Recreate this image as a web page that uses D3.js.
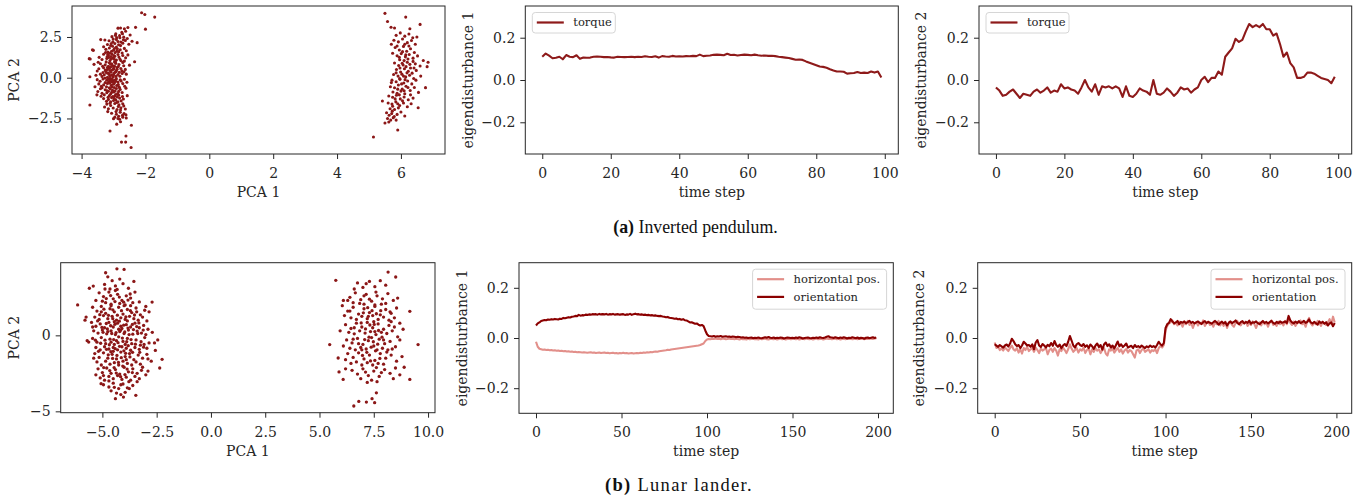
<!DOCTYPE html>
<html>
<head>
<meta charset="utf-8">
<script src="https://cdn.jsdelivr.net/npm/d3@7"></script>
<style>
  body { margin: 0; background: #fff; }
  svg { display: block; }
</style>
</head>
<body>
<svg id="fig" width="1369" height="498"></svg>
<script>
// ---- data ----
// (a) inverted pendulum, PCA scatter: two clusters
const pendClusterLeft = [
  [-2.12,3.99],[-2.02,3.88],[-1.71,3.72],[-2.0,2.98],[-2.31,3.09],[-2.26,2.15],[-2.34,0.98],
  [-2.86,3.04],[-2.78,3.05],[-2.66,3.0],[-2.55,3.08],[-2.62,2.85],[-2.74,2.78],[-2.93,2.7],[-2.48,2.62],
  [-3.05,2.52],[-2.9,2.46],[-2.81,2.58],[-2.68,2.49],[-2.57,2.41],[-3.4,2.34],[-3.27,2.31],
  [-3.14,2.27],[-3.02,2.21],[-2.91,2.35],[-2.77,2.19],[-2.63,2.28],[-2.42,2.24],[-3.19,2.04],[-3.09,1.98],
  [-2.96,2.1],[-2.84,2.02],[-2.71,2.12],[-2.52,2.05],[-3.01,2.38],[-2.86,2.22],
  [-3.63,1.68],[-3.66,1.71],[-3.24,1.74],[-3.13,1.82],[-3.0,1.69],[-2.91,1.88],[-2.79,1.72],[-2.66,1.8],
  [-3.18,1.58],[-3.06,1.62],[-2.95,1.54],[-2.84,1.6],[-2.73,1.52],[-3.31,1.9],[-2.6,1.65],
  [-3.31,1.44],[-3.16,1.37],[-3.05,1.45],[-2.96,1.31],[-2.86,1.42],[-2.71,1.36],[-2.55,1.4],[-3.36,1.12],
  [-3.21,1.18],[-3.11,1.05],[-3.01,1.22],[-2.91,1.09],[-2.8,1.15],[-2.66,1.02],[-3.76,1.17],[-3.73,1.15],
  [-3.45,1.25],[-3.08,1.3],[-2.98,1.14],[-3.15,1.24],
  [-3.61,0.82],[-3.41,0.86],[-3.26,0.79],[-3.13,0.92],[-3.03,0.75],[-2.93,0.88],[-2.83,0.81],[-2.71,0.94],
  [-2.5,0.77],[-3.46,0.55],[-3.31,0.61],[-3.19,0.5],[-3.09,0.66],[-2.99,0.53],[-2.89,0.63],[-2.77,0.57],
  [-2.63,0.51],[-3.06,0.85],[-2.97,0.96],[-3.16,0.7],[-3.0,0.6],
  [-3.74,0.06],[-3.41,0.22],[-3.29,0.18],[-3.16,0.28],[-3.06,0.15],[-2.96,0.32],[-2.86,0.2],[-2.73,0.26],
  [-3.51,0.41],[-3.24,0.39],[-3.11,0.44],[-3.01,0.05],[-2.91,0.42],[-2.8,0.09],[-3.19,0.02],[-3.08,0.34],
  [-2.99,0.25],[-3.36,0.08],[-2.67,0.36],[-3.12,0.12],
  [-3.51,-0.12],[-3.33,-0.08],[-3.21,-0.15],[-3.11,-0.04],[-3.01,-0.18],[-2.91,-0.06],[-2.79,-0.13],[-2.66,-0.09],
  [-3.46,-0.38],[-3.31,-0.44],[-3.19,-0.35],[-3.07,-0.47],[-2.97,-0.31],[-2.85,-0.42],[-2.71,-0.36],[-3.15,-0.25],
  [-3.04,-0.27],[-2.93,-0.22],[-3.26,-0.3],[-3.09,-0.12],
  [-3.41,-0.68],[-3.26,-0.74],[-3.13,-0.62],[-3.03,-0.77],[-2.91,-0.66],[-2.79,-0.72],[-2.61,-0.64],[-3.36,-0.96],
  [-3.21,-0.92],[-3.09,-1.0],[-2.99,-0.88],[-2.87,-0.97],[-2.73,-0.91],[-3.16,-0.83],[-3.05,-0.57],[-2.95,-0.81],
  [-3.49,-0.85],[-2.83,-0.55],
  [-3.74,-1.67],[-3.31,-1.28],[-3.16,-1.33],[-3.06,-1.22],[-2.93,-1.36],[-2.81,-1.25],[-2.69,-1.31],[-3.22,-1.45],
  [-3.09,-1.48],[-2.96,-1.12],[-2.86,-1.47],[-3.39,-1.14],[-3.0,-1.4],
  [-3.21,-1.62],[-3.09,-1.7],[-2.96,-1.58],[-2.83,-1.66],[-2.71,-1.6],[-3.16,-1.91],[-3.01,-1.86],[-2.89,-1.95],
  [-2.77,-1.84],[-2.63,-1.92],[-2.85,-1.77],[-3.28,-1.8],[-2.68,-1.73],
  [-3.06,-2.18],[-2.91,-2.24],[-2.79,-2.12],[-2.67,-2.2],[-2.84,-2.36],[-2.72,-2.31],[-2.96,-2.42],[-2.61,-2.28],
  [-3.0,-2.51],[-2.81,-2.55],[-2.6,-2.47],[-3.18,-2.08],
  [-2.44,-2.92],[-2.78,-2.7],[-3.11,-3.27],[-2.61,-3.58],[-2.75,-3.95],[-2.62,-3.95],[-2.45,-4.28],[-2.9,-2.85]
];
const pendClusterLeftCore = [
  [-3.03,1.93],[-2.88,1.77],[-3.11,1.51],[-2.99,1.36],[-3.2,1.29],[-2.83,1.27],[-3.07,1.16],[-2.94,0.99],
  [-3.23,0.97],[-2.77,1.05],[-3.09,0.83],[-2.97,0.71],[-3.34,0.7],[-2.85,0.69],[-3.13,0.58],[-3.04,0.47],
  [-2.93,0.37],[-3.22,0.3],[-2.82,0.33],[-3.14,0.21],[-3.02,0.13],[-2.92,0.08],[-3.27,-0.02],[-3.16,-0.09],
  [-3.05,-0.07],[-2.95,-0.14],[-2.86,-0.27],[-3.12,-0.33],[-3.0,-0.4],[-3.38,-0.52],[-3.22,-0.56],[-2.9,-0.48],
  [-3.1,-0.69],[-2.98,-0.6],[-2.84,-0.84],[-3.2,-0.8],[-3.06,-0.9],[-2.93,-1.03],[-3.13,-1.1],[-3.02,-1.15],
  [-2.88,-1.18],[-2.76,-1.42],[-3.11,-1.57],[-2.9,-1.52],[-2.78,-1.98],[-2.92,-2.08],[-2.71,-2.42],[-2.86,-2.5],
  [-3.18,1.43],[-2.9,1.62],[-2.78,1.97],[-2.69,2.33],[-2.8,2.45],[-2.94,2.6],[-2.72,2.7],[-3.26,0.47],
  [-3.33,0.32],[-3.42,-0.22],[-3.36,-0.62],[-3.29,-1.05],[-3.25,1.55],[-2.6,0.22],[-2.58,-0.28],[-2.65,-0.52],
  [-2.57,-1.1],[-2.62,1.22],[-3.55,0.15],[-3.58,-0.55],[-3.48,0.95],[-3.52,-1.05],[-2.97,1.79],[-3.07,2.1],
  [-2.74,0.42],[-2.68,0.73],[-2.76,-0.2],[-2.72,-1.15],[-3.17,-1.2],[-2.98,-1.27],[-2.84,-1.07],[-3.0,0.18],
  [-3.1,-0.2],[-3.19,0.62],[-2.89,0.52],[-2.81,-0.62]
];
const pendClusterRight = [
  [5.5,3.95],[6.15,3.72],[6.6,3.27],[5.58,3.45],[5.69,3.1],[5.8,3.05],[6.28,3.0],[5.14,-3.64],[5.9,-3.21],
  [5.42,-1.43],[6.54,-1.84],[6.77,-0.61],[6.7,1.06],[6.82,0.68],[6.85,0.95],[6.5,2.5],
  [5.85,2.6],[5.98,2.75],[6.12,2.55],[6.25,2.68],[6.37,2.45],[5.78,2.3],[5.92,2.2],[6.05,2.38],[6.2,2.15],
  [6.33,2.28],[6.45,2.05],[5.7,2.05],
  [5.82,1.85],[5.95,1.7],[6.08,1.92],[6.18,1.62],[6.3,1.78],[6.42,1.55],[5.74,1.5],[5.88,1.35],[6.01,1.48],
  [6.14,1.28],[6.26,1.42],[6.38,1.2],[6.52,1.34],[5.96,1.1],[6.1,1.05],[6.22,1.15],
  [5.8,0.9],[5.93,0.75],[6.04,0.88],[6.16,0.68],[6.28,0.82],[6.41,0.6],[6.6,0.72],[5.86,0.5],[5.99,0.35],
  [6.11,0.55],[6.23,0.4],[6.35,0.28],[6.48,0.45],[5.77,0.2],[5.91,0.1],[6.03,0.22],[6.15,0.05],[6.27,0.15],[6.62,0.1],
  [5.72,-0.15],[5.85,-0.25],[5.97,-0.1],[6.09,-0.32],[6.21,-0.2],[6.34,-0.38],[6.47,-0.15],[5.67,-0.55],
  [5.8,-0.62],[5.92,-0.45],[6.04,-0.7],[6.16,-0.52],[6.29,-0.78],[6.42,-0.6],[5.75,-0.88],[5.88,-0.95],
  [6.0,-0.82],[6.12,-0.98],[6.55,-0.9],
  [5.62,-1.12],[5.74,-1.2],[5.86,-1.08],[5.98,-1.3],[6.1,-1.18],[6.23,-1.35],[6.38,-1.25],[5.6,-1.55],
  [5.72,-1.62],[5.84,-1.48],[5.96,-1.7],[6.08,-1.55],[6.2,-1.78],[5.66,-1.9],[5.8,-1.95],[5.92,-1.85],[6.32,-1.6],
  [5.55,-2.15],[5.63,-2.3],[5.71,-2.2],[5.79,-2.38],[5.58,-2.5],[5.68,-2.6],[5.76,-2.45],[5.88,-2.25],
  [6.0,-2.1],[5.5,-2.78],[5.62,-2.72],[6.12,-2.35],[5.85,-2.6]
];
const pendClusterRightCore = [
  [6.05,1.6],[6.15,1.4],[5.95,1.25],[6.2,0.95],[6.07,0.78],[5.97,0.6],[6.19,0.3],[6.08,0.1],[5.96,-0.05],
  [6.13,-0.12],[6.02,-0.38],[5.9,-0.7],[6.1,-0.8],[5.95,-1.05],[5.82,-1.3],[6.05,-1.42],[5.9,-1.6],[5.74,-1.75],
  [5.73,-2.05],[6.3,0.6],[6.38,1.0],[5.88,1.95],[6.12,2.05],[6.25,1.95],[5.7,-0.3],[6.4,-0.05],[6.3,-1.05],
  [6.45,0.85],[5.85,0.3],[6.22,-0.6]
];
// (b) lunar lander, PCA scatter
const landerClusterLeft = [
  [-6.14,2.0],[-4.33,4.38],[-4.0,4.34],[-4.85,4.12],[-5.6,3.1],[-5.42,3.24],[-2.71,2.19],[-2.25,-1.58],
  [-2.36,-2.15],[-2.56,-0.99],[-5.63,-0.44],[-5.7,-0.35],[-4.4,-4.17],[-4.03,-4.06],[-3.46,-3.95],[-5.06,-3.18],
  [-3.76,-3.5],[-2.6,-0.5],[-5.75,1.2],[-5.8,1.0],[-2.45,-0.3],
  [-4.75,3.85],[-4.55,3.6],[-4.2,3.7],[-4.9,3.35],[-4.4,3.25],[-4.05,3.4],[-3.8,3.1],[-4.65,3.05],[-3.55,3.55],
  [-5.15,2.8],[-4.95,2.55],[-4.7,2.85],[-4.5,2.4],[-4.3,2.7],[-4.1,2.3],[-3.9,2.6],[-3.7,2.45],[-3.5,2.85],
  [-3.3,2.2],[-5.3,2.3],[-4.85,2.15],[-4.6,2.05],[-4.2,2.1],[-3.95,2.0],[-3.6,2.15],[-5.0,2.25],[-4.4,2.95],
  [-5.45,1.85],[-5.25,1.6],[-5.05,1.9],[-4.85,1.45],[-4.65,1.75],[-4.45,1.55],[-4.25,1.85],[-4.05,1.4],
  [-3.85,1.7],[-3.65,1.5],[-3.45,1.8],[-3.25,1.35],[-3.05,1.65],[-5.35,1.2],[-5.15,1.05],[-4.95,1.3],
  [-4.75,1.1],[-4.55,1.25],[-4.35,1.0],[-4.15,1.15],[-3.95,1.05],[-3.75,1.25],[-3.55,1.1],[-3.35,1.0],
  [-3.15,1.2],[-2.85,1.55],[-2.95,0.95],[-4.6,1.95],[-4.0,1.95],[-3.7,1.95],
  [-5.5,0.85],[-5.3,0.6],[-5.1,0.75],[-4.9,0.5],[-4.7,0.85],[-4.5,0.55],[-4.3,0.8],[-4.1,0.45],[-3.9,0.7],
  [-3.7,0.55],[-3.5,0.8],[-3.3,0.5],[-3.1,0.65],[-2.9,0.4],[-5.4,0.3],[-5.2,0.15],[-5.0,0.35],[-4.8,0.1],
  [-4.6,0.3],[-4.4,0.05],[-4.2,0.25],[-4.0,0.12],[-3.8,0.35],[-3.6,0.08],[-3.4,0.28],[-3.2,0.15],[-3.0,0.05],
  [-4.45,0.9],[-4.15,0.6],[-3.85,0.95],[-4.75,0.25],[-4.25,0.4],[-2.7,0.2],
  [-5.45,-0.2],[-5.25,-0.45],[-5.05,-0.15],[-4.85,-0.55],[-4.65,-0.25],[-4.45,-0.6],[-4.25,-0.1],[-4.05,-0.4],
  [-3.85,-0.2],[-3.65,-0.55],[-3.45,-0.3],[-3.25,-0.65],[-3.05,-0.15],[-2.85,-0.5],[-5.3,-0.8],[-5.1,-0.95],
  [-4.9,-0.75],[-4.7,-0.9],[-4.5,-0.8],[-4.3,-0.95],[-4.1,-0.75],[-3.9,-0.85],[-3.7,-0.98],[-3.5,-0.8],
  [-3.3,-0.92],[-3.1,-0.78],[-4.35,-0.35],[-3.95,-0.6],[-4.6,-0.45],[-2.95,-0.85],
  [-5.35,-1.2],[-5.15,-1.45],[-4.95,-1.15],[-4.75,-1.5],[-4.55,-1.25],[-4.35,-1.55],[-4.15,-1.1],[-3.95,-1.4],
  [-3.75,-1.2],[-3.55,-1.6],[-3.35,-1.3],[-3.15,-1.5],[-2.95,-1.25],[-5.25,-1.75],[-5.05,-1.95],[-4.85,-1.7],
  [-4.65,-1.9],[-4.45,-1.8],[-4.25,-1.95],[-4.05,-1.7],[-3.85,-1.85],[-3.65,-1.95],[-3.45,-1.75],[-3.25,-1.9],
  [-2.75,-1.7],[-4.5,-1.05],[-3.9,-1.6],
  [-5.2,-2.2],[-5.0,-2.45],[-4.8,-2.15],[-4.6,-2.5],[-4.4,-2.25],[-4.2,-2.55],[-4.0,-2.1],[-3.8,-2.4],
  [-3.6,-2.2],[-3.4,-2.5],[-3.2,-2.3],[-3.0,-2.6],[-5.1,-2.8],[-4.9,-2.95],[-4.7,-2.7],[-4.5,-2.85],
  [-4.3,-2.65],[-4.1,-2.9],[-3.9,-2.75],[-3.7,-2.95],[-3.5,-2.7],[-3.3,-2.85],[-5.3,-2.6],[-2.9,-2.35],
  [-4.95,-3.25],[-4.7,-3.4],[-4.5,-3.15],[-4.25,-3.5],[-4.05,-3.2],[-3.85,-3.45],[-3.6,-3.3],[-4.35,-3.8],
  [-4.6,-3.65],[-4.15,-3.9],[-3.95,-3.75]
];
const landerClusterLeftCore = [
  [-4.52,1.68],[-4.31,1.33],[-4.12,1.62],[-3.92,1.21],[-4.72,1.32],[-4.93,1.72],[-5.12,1.36],[-3.71,1.62],
  [-3.52,1.34],[-4.42,0.73],[-4.22,0.93],[-4.02,0.67],[-3.82,0.48],[-4.62,0.63],[-4.82,0.78],[-5.02,0.52],
  [-3.62,0.72],[-3.42,0.58],[-4.37,0.18],[-4.17,0.33],[-3.97,0.22],[-3.77,0.05],[-4.57,0.12],[-4.77,0.42],
  [-4.97,0.2],[-3.57,0.38],[-3.37,0.12],[-4.48,-0.28],[-4.28,-0.48],[-4.08,-0.18],[-3.88,-0.42],[-4.68,-0.62],
  [-4.88,-0.32],[-5.08,-0.52],[-3.68,-0.28],[-3.48,-0.58],[-4.41,-0.88],[-4.21,-0.72],[-4.01,-1.02],[-3.81,-0.68],
  [-4.61,-1.08],[-4.81,-0.92],[-3.61,-1.12],[-4.33,-1.32],[-4.13,-1.47],[-3.93,-1.18],[-4.53,-1.52],[-4.73,-1.28],
  [-3.73,-1.42],[-4.26,-1.78],[-4.06,-2.02],[-4.46,-2.12],[-3.86,-2.22],[-4.66,-2.32],[-4.36,-2.48],[-4.16,-2.72],
  [-3.96,-2.58],[-4.42,2.22],[-4.22,2.52],[-4.02,2.18],[-4.62,2.62],[-3.82,2.32],[-4.82,2.42],[-4.32,3.02],
  [-4.52,1.1],[-3.32,0.82],[-3.22,-0.42],[-3.12,0.35],[-5.22,0.95],[-5.32,-0.32],[-5.18,-1.05],[-3.28,-1.12],
  [-3.42,1.55],[-4.94,-2.12],[-3.62,-2.45],[-5.05,1.55],[-3.72,2.72],[-4.88,3.05],[-5.4,-1.5],[-3.15,-2.1],
  [-4.7,-3.0],[-4.15,-3.25],[-3.4,-3.05],[-5.45,0.55],[-3.0,1.9],[-3.08,-0.6],[-2.9,-1.55],[-4.45,-3.42],
  [-3.78,-3.05],[-4.95,-2.65]
];
const landerClusterRight = [
  [5.47,-0.61],[9.54,-0.61],[5.75,3.62],[8.16,4.16],[8.51,3.84],[6.58,-4.65],[6.81,-4.35],[7.16,-4.39],
  [7.42,-4.17],[7.54,-4.43],[7.62,-3.78],[9.16,-2.9],[9.16,1.58],[5.86,-1.49],[6.09,-2.9],[5.9,-2.41],
  [6.05,1.95],[6.1,2.3],[8.9,-2.1],[8.85,0.4],[5.95,0.3],
  [6.75,3.45],[7.0,3.15],[7.3,3.55],[7.55,3.2],[7.8,3.6],[8.05,3.3],[7.15,3.4],[6.6,3.05],
  [6.4,2.5],[6.65,2.8],[6.9,2.35],[7.15,2.7],[7.4,2.25],[7.65,2.6],[7.9,2.4],[8.15,2.75],[8.4,2.3],
  [6.55,2.15],[7.05,2.05],[7.55,2.0],[8.05,2.1],[6.3,2.3],
  [6.3,1.6],[6.55,1.85],[6.8,1.4],[7.05,1.75],[7.3,1.5],[7.55,1.9],[7.8,1.35],[8.05,1.7],[8.3,1.45],
  [8.55,1.8],[6.45,1.15],[6.7,1.05],[6.95,1.25],[7.2,1.1],[7.45,1.3],[7.7,1.05],[7.95,1.2],[8.2,1.0],
  [8.45,1.15],[6.15,1.3],
  [6.2,0.7],[6.45,0.45],[6.7,0.8],[6.95,0.55],[7.2,0.85],[7.45,0.5],[7.7,0.75],[7.95,0.4],[8.2,0.65],
  [8.45,0.55],[6.35,0.2],[6.6,0.1],[6.85,0.3],[7.1,0.15],[7.35,0.25],[7.6,0.05],[7.85,0.2],[8.1,0.12],
  [8.35,0.3],[8.7,0.8],[7.5,0.9],
  [6.25,-0.3],[6.5,-0.5],[6.75,-0.2],[7.0,-0.6],[7.25,-0.35],[7.5,-0.7],[7.75,-0.25],[8.0,-0.55],
  [8.25,-0.4],[8.5,-0.75],[6.4,-0.85],[6.65,-0.95],[6.9,-0.8],[7.15,-0.9],[7.4,-0.15],[7.65,-0.95],
  [7.9,-0.85],[8.15,-0.95],[8.7,-0.3],[6.1,-0.7],
  [6.3,-1.2],[6.55,-1.45],[6.8,-1.15],[7.05,-1.55],[7.3,-1.3],[7.55,-1.65],[7.8,-1.2],[8.05,-1.5],
  [8.3,-1.3],[8.55,-1.7],[6.45,-1.85],[6.7,-1.75],[6.95,-1.95],[7.2,-1.8],[7.45,-1.95],[7.7,-1.85],
  [7.95,-1.9],[8.8,-1.4],[6.2,-1.6],
  [6.5,-2.3],[6.75,-2.55],[7.0,-2.2],[7.25,-2.65],[7.5,-2.35],[7.75,-2.7],[8.0,-2.25],[8.25,-2.5],
  [8.5,-2.15],[6.9,-2.85],[7.4,-2.95],[7.65,-3.05],[7.2,-3.1],[8.4,-2.85]
];
const landerClusterRightCore = [
  [7.42,1.62],[7.62,1.42],[7.22,1.82],[7.82,1.62],[7.02,1.48],[7.32,0.68],[7.52,0.72],[7.12,0.42],
  [7.72,0.32],[6.92,0.82],[7.28,-0.12],[7.48,-0.42],[7.68,-0.58],[7.08,-0.28],[7.88,-0.12],[7.38,-0.78],
  [7.18,-1.12],[7.58,-1.02],[7.78,-1.52],[6.98,-1.32],[7.35,-1.68],[7.62,-2.12],[7.12,-2.42],[7.85,-2.45],
  [7.3,2.38],[7.6,2.85],[7.05,2.6],[7.85,2.05],[8.3,0.9],[8.35,-0.9],[6.6,0.5],[6.55,-0.25],
  [8.1,-1.1],[6.8,-0.55],[8.25,1.55],[6.85,2.1],[7.95,-0.3],[7.25,1.25],[7.55,0.25],[6.95,-0.95],
  [8.6,-0.1],[6.4,1.6],[8.6,2.45],[6.2,-2.2],[8.7,-2.6]
];

// (a) eigendisturbances, torque channel, 100 time steps
const pendTorque1 = [
  0.110,0.125,0.115,0.103,0.105,0.110,0.098,0.118,0.110,0.108,
  0.117,0.100,0.106,0.105,0.106,0.110,0.111,0.110,0.108,0.109,
  0.107,0.106,0.110,0.109,0.108,0.109,0.110,0.108,0.110,0.109,
  0.112,0.110,0.109,0.112,0.106,0.113,0.111,0.110,0.114,0.111,
  0.112,0.111,0.113,0.112,0.114,0.113,0.120,0.113,0.115,0.116,
  0.119,0.120,0.119,0.117,0.124,0.118,0.119,0.116,0.118,0.120,
  0.119,0.117,0.120,0.117,0.115,0.116,0.114,0.115,0.113,0.110,
  0.108,0.106,0.104,0.100,0.096,0.097,0.095,0.088,0.082,0.076,
  0.070,0.064,0.062,0.058,0.051,0.045,0.040,0.040,0.039,0.030,
  0.032,0.033,0.038,0.033,0.035,0.033,0.040,0.035,0.040,0.012
];
const pendTorque2 = [
  -0.035,-0.050,-0.075,-0.070,-0.055,-0.045,-0.065,-0.085,-0.065,-0.070,
  -0.075,-0.055,-0.045,-0.060,-0.050,-0.035,-0.060,-0.050,-0.055,-0.020,
  -0.040,-0.035,-0.045,-0.050,-0.065,-0.035,0.000,-0.035,-0.055,-0.020,
  -0.070,-0.030,-0.035,-0.030,-0.040,-0.030,-0.040,-0.080,-0.030,-0.075,
  -0.080,-0.065,-0.040,-0.050,-0.055,-0.070,0.000,-0.065,-0.070,-0.060,
  -0.040,-0.055,-0.075,-0.060,-0.035,-0.045,-0.040,-0.060,-0.045,-0.035,
  0.000,0.015,-0.010,0.010,0.010,0.040,0.025,0.110,0.130,0.150,
  0.195,0.180,0.190,0.230,0.265,0.250,0.260,0.250,0.265,0.240,
  0.240,0.210,0.220,0.170,0.110,0.130,0.080,0.060,0.010,0.010,
  0.015,0.035,0.035,0.030,0.020,0.010,0.005,0.000,-0.015,0.015
];

// (b) eigendisturbances, 200 time steps
const landerHoriz1 = [
  -0.015,-0.035,-0.043,-0.045,-0.047,-0.046,-0.048,-0.047,-0.049,-0.048,
  -0.050,-0.049,-0.051,-0.050,-0.052,-0.051,-0.053,-0.052,-0.054,-0.053,
  -0.055,-0.054,-0.056,-0.055,-0.057,-0.056,-0.057,-0.058,-0.057,-0.058,
  -0.059,-0.058,-0.057,-0.059,-0.058,-0.060,-0.059,-0.058,-0.060,-0.059,
  -0.058,-0.060,-0.059,-0.061,-0.060,-0.059,-0.061,-0.060,-0.062,-0.060,
  -0.061,-0.059,-0.061,-0.060,-0.062,-0.061,-0.060,-0.062,-0.061,-0.060,
  -0.061,-0.059,-0.060,-0.058,-0.059,-0.057,-0.058,-0.056,-0.057,-0.055,
  -0.054,-0.055,-0.053,-0.052,-0.051,-0.050,-0.049,-0.047,-0.048,-0.046,
  -0.045,-0.044,-0.043,-0.042,-0.041,-0.040,-0.039,-0.038,-0.037,-0.036,
  -0.035,-0.034,-0.033,-0.032,-0.031,-0.030,-0.028,-0.025,-0.022,-0.012,
  -0.006,-0.004,-0.005,-0.003,-0.004,-0.002,-0.004,-0.003,-0.005,-0.002,
  -0.003,-0.005,-0.004,-0.002,-0.004,-0.003,-0.005,-0.003,-0.004,-0.006,
  -0.003,-0.005,-0.004,-0.006,-0.003,-0.005,-0.004,-0.002,-0.005,-0.004,
  -0.006,-0.003,-0.005,-0.004,-0.002,-0.005,-0.006,-0.003,-0.004,-0.005,
  -0.003,-0.006,-0.004,-0.002,-0.005,-0.003,-0.006,-0.004,-0.003,-0.005,
  -0.004,-0.002,-0.005,-0.003,-0.006,-0.004,-0.003,-0.005,-0.002,-0.004,
  -0.005,-0.003,-0.006,-0.004,-0.002,-0.005,-0.004,-0.003,-0.006,-0.004,
  -0.002,-0.004,-0.003,-0.005,-0.004,-0.002,-0.005,-0.003,-0.006,-0.004,
  -0.003,-0.005,-0.002,-0.004,-0.003,-0.005,-0.004,-0.002,-0.005,-0.003,
  -0.004,-0.002,-0.005,-0.003,-0.004,-0.001,-0.003,-0.004,-0.002,-0.001
];
const landerOrient1 = [
  0.050,0.058,0.062,0.068,0.070,0.072,0.071,0.074,0.073,0.075,
  0.074,0.076,0.075,0.074,0.077,0.076,0.080,0.079,0.081,0.083,
  0.082,0.085,0.086,0.088,0.087,0.092,0.089,0.091,0.090,0.093,
  0.092,0.094,0.093,0.095,0.094,0.095,0.093,0.096,0.094,0.095,
  0.094,0.096,0.093,0.095,0.094,0.096,0.093,0.094,0.095,0.093,
  0.094,0.095,0.092,0.094,0.093,0.096,0.092,0.095,0.097,0.094,
  0.095,0.093,0.094,0.092,0.093,0.091,0.092,0.090,0.091,0.089,
  0.090,0.088,0.087,0.088,0.086,0.085,0.083,0.084,0.081,0.080,
  0.079,0.077,0.078,0.075,0.076,0.073,0.075,0.071,0.070,0.066,
  0.062,0.063,0.060,0.057,0.058,0.053,0.050,0.052,0.047,0.030,
  0.015,0.008,0.007,0.006,0.008,0.005,0.007,0.006,0.008,0.005,
  0.006,0.007,0.005,0.006,0.004,0.006,0.005,0.003,0.005,0.004,
  0.002,0.003,0.001,0.002,0.000,0.001,0.002,-0.001,0.001,0.000,
  0.002,0.000,-0.001,0.001,0.003,0.001,0.004,0.001,0.000,0.002,
  -0.001,0.001,0.000,0.002,0.001,-0.002,0.000,0.002,0.001,0.000,
  0.001,-0.001,0.002,0.000,0.003,0.001,-0.002,0.000,0.001,0.002,
  0.000,-0.001,0.001,0.000,0.002,0.000,0.003,0.001,0.000,0.002,
  0.005,0.007,0.003,0.002,0.000,0.003,0.001,-0.001,0.002,0.000,
  0.003,0.001,-0.002,0.001,0.000,0.003,0.001,-0.001,0.002,-0.002,
  0.001,0.000,-0.003,0.001,0.002,-0.001,0.001,0.003,0.000,0.002
];
const landerHoriz2 = [
  -0.018,-0.040,-0.035,-0.048,-0.042,-0.050,-0.038,-0.045,-0.052,-0.040,
  -0.030,-0.045,-0.050,-0.040,-0.058,-0.045,-0.062,-0.040,-0.048,-0.035,
  -0.052,-0.045,-0.040,-0.055,-0.038,-0.048,-0.060,-0.042,-0.050,-0.045,
  -0.040,-0.065,-0.048,-0.042,-0.055,-0.040,-0.050,-0.070,-0.045,-0.052,
  -0.038,-0.048,-0.060,-0.045,-0.025,-0.042,-0.055,-0.048,-0.040,-0.058,
  -0.045,-0.050,-0.038,-0.060,-0.048,-0.042,-0.065,-0.045,-0.055,-0.040,
  -0.050,-0.045,-0.060,-0.048,-0.040,-0.062,-0.070,-0.045,-0.050,-0.042,
  -0.058,-0.048,-0.040,-0.055,-0.045,-0.062,-0.050,-0.044,-0.058,-0.048,
  -0.052,-0.065,-0.078,-0.050,-0.045,-0.060,-0.048,-0.042,-0.055,-0.050,
  -0.045,-0.058,-0.048,-0.052,-0.045,-0.060,-0.040,-0.032,-0.038,-0.028,
  0.030,0.048,0.058,0.062,0.070,0.055,0.060,0.050,0.065,0.058,
  0.045,0.062,0.055,0.068,0.052,0.060,0.040,0.058,0.064,0.050,
  0.062,0.055,0.070,0.048,0.060,0.066,0.052,0.058,0.045,0.062,
  0.055,0.068,0.050,0.060,0.048,0.065,0.040,0.058,0.062,0.052,
  0.045,0.060,0.068,0.055,0.050,0.062,0.058,0.065,0.048,0.060,
  0.052,0.066,0.055,0.040,0.058,0.062,0.050,0.068,0.055,0.060,
  0.045,0.062,0.070,0.052,0.058,0.048,0.065,0.055,0.060,0.050,
  0.068,0.055,0.075,0.060,0.052,0.065,0.048,0.058,0.062,0.070,
  0.055,0.060,0.045,0.068,0.080,0.058,0.050,0.062,0.055,0.068,
  0.060,0.048,0.065,0.058,0.052,0.062,0.075,0.055,0.085,0.062
];
const landerOrient2 = [
  -0.025,-0.030,-0.035,-0.028,-0.033,-0.038,-0.030,-0.026,-0.034,-0.022,
  -0.003,-0.012,-0.025,-0.032,-0.028,-0.040,-0.030,-0.015,-0.022,-0.030,
  -0.028,-0.035,-0.025,-0.045,-0.018,-0.008,-0.030,-0.036,-0.024,-0.030,
  -0.038,-0.027,-0.033,-0.020,-0.031,-0.012,-0.028,-0.035,-0.026,-0.041,
  -0.030,-0.024,-0.032,-0.015,0.008,-0.010,-0.030,-0.038,-0.025,-0.020,
  -0.028,-0.032,-0.024,-0.035,-0.029,-0.040,-0.026,-0.033,-0.043,-0.030,
  -0.022,-0.036,-0.028,-0.046,-0.026,-0.018,-0.032,-0.025,-0.038,-0.030,
  -0.042,-0.028,-0.014,-0.033,-0.025,-0.036,-0.030,-0.022,-0.038,-0.034,
  -0.031,-0.040,-0.028,-0.036,-0.032,-0.038,-0.030,-0.035,-0.040,-0.033,
  -0.037,-0.030,-0.036,-0.032,-0.038,-0.028,-0.015,-0.025,-0.030,-0.020,
  0.040,0.055,0.060,0.075,0.066,0.058,0.062,0.068,0.055,0.064,
  0.061,0.066,0.059,0.063,0.068,0.060,0.064,0.058,0.062,0.066,
  0.060,0.056,0.063,0.067,0.059,0.064,0.061,0.057,0.063,0.068,
  0.062,0.053,0.060,0.065,0.058,0.063,0.050,0.061,0.066,0.059,
  0.064,0.070,0.060,0.055,0.063,0.067,0.058,0.064,0.060,0.069,
  0.057,0.063,0.061,0.066,0.059,0.055,0.062,0.067,0.060,0.064,
  0.058,0.063,0.068,0.060,0.057,0.064,0.059,0.066,0.061,0.063,
  0.066,0.060,0.088,0.070,0.062,0.058,0.065,0.060,0.067,0.059,
  0.063,0.068,0.060,0.064,0.074,0.062,0.058,0.064,0.059,0.053,
  0.066,0.060,0.064,0.057,0.063,0.050,0.058,0.062,0.047,0.060
];

const pcaTicksA = { x: [-4, -2, 0, 2, 4, 6], y: [-2.5, 0, 2.5] };
const pcaTicksB = { x: [-5, -2.5, 0, 2.5, 5, 7.5, 10], y: [-5, 0] };
const eigTicks = [-0.2, 0, 0.2];
const stepTicksA = [0, 20, 40, 60, 80, 100];
const stepTicksB = [0, 50, 100, 150, 200];
const captions = ["Inverted pendulum.", "Lunar lander."];

// ---- style ----
const DOT = "#8b1717";
const TORQUE = "#8e1a1a";
const ORIENT = "#8b0000";
const HORIZ = "#e28f8a";
const FONT = "DejaVu Serif";
const INK = "#262626";

const svg = d3.select("#fig");

function frame(g, w, h) {
  g.append("rect")
    .attr("width", w).attr("height", h)
    .attr("fill", "none").attr("stroke", INK).attr("stroke-width", 1);
}

function axes(g, x, y, w, h, xt, yt, fx, fy) {
  const ax = g.append("g").attr("transform", `translate(0,${h})`)
    .call(d3.axisBottom(x).tickValues(xt).tickFormat(fx).tickSize(5).tickPadding(9));
  const ay = g.append("g")
    .call(d3.axisLeft(y).tickValues(yt).tickFormat(fy).tickSize(5).tickPadding(5));
  [ax, ay].forEach(a => {
    a.select(".domain").remove();
    a.selectAll("line").attr("stroke", INK);
    a.selectAll("text").attr("fill", INK).attr("font-family", FONT).attr("font-size", 14);
  });
}

function labels(g, w, h, xl, yl, ylx) {
  g.append("text")
    .attr("x", w / 2).attr("y", h + 43)
    .attr("text-anchor", "middle")
    .attr("font-family", FONT).attr("font-size", 14).attr("fill", INK)
    .text(xl);
  g.append("text")
    .attr("transform", `translate(${ylx},${h / 2}) rotate(-90)`)
    .attr("dy", "0.35em")
    .attr("text-anchor", "middle")
    .attr("font-family", FONT).attr("font-size", 14).attr("fill", INK)
    .text(yl);
}

function scatterPanel(p) {
  const g = svg.append("g").attr("transform", `translate(${p.x},${p.y})`);
  const x = d3.scaleLinear().domain(p.xDomain).range([0, p.w]);
  const y = d3.scaleLinear().domain(p.yDomain).range([p.h, 0]);
  p.clusters.forEach(pts => {
    g.append("g").selectAll("circle").data(pts).join("circle")
      .attr("cx", d => x(d[0])).attr("cy", d => y(d[1]))
      .attr("r", p.r).attr("fill", DOT);
  });
  frame(g, p.w, p.h);
  axes(g, x, y, p.w, p.h, p.xTicks, p.yTicks, p.fx, p.fy);
  labels(g, p.w, p.h, "PCA 1", "PCA 2", p.ylx);
}

function legend(g, w, series, side) {
  const lw = side === "left" ? 83 : 134;
  const lx = side === "left" ? 7 : w - 6.7 - lw;
  const L = g.append("g").attr("transform", `translate(${lx},6.5)`);
  L.append("rect")
    .attr("width", lw).attr("height", series.length === 1 ? 20.5 : 40)
    .attr("rx", 3)
    .attr("fill", "#fff").attr("fill-opacity", 0.85)
    .attr("stroke", "#d6d6d6").attr("stroke-width", 1);
  series.forEach((s, i) => {
    const cy = series.length === 1 ? 10 : 10 + i * 17.7;
    L.append("line")
      .attr("x1", 4.5).attr("x2", 31.5).attr("y1", cy).attr("y2", cy)
      .attr("stroke", s.color).attr("stroke-width", 2.2);
    L.append("text")
      .attr("x", 41).attr("y", cy).attr("dy", "0.32em")
      .attr("font-family", FONT).attr("font-size", 11.5).attr("fill", INK)
      .text(s.name);
  });
}

function linePanel(p) {
  const g = svg.append("g").attr("transform", `translate(${p.x},${p.y})`);
  const n = p.series[0].values.length;
  const pad = (n - 1) * 0.05;
  const x = d3.scaleLinear().domain([-pad, n - 1 + pad]).range([0, p.w]);
  const y = d3.scaleLinear().domain(p.yDomain).range([p.h, 0]);
  const line = d3.line().x((d, i) => x(i)).y(d => y(d));
  p.series.forEach(s => {
    g.append("path").datum(s.values)
      .attr("fill", "none").attr("stroke", s.color)
      .attr("stroke-width", 2.1).attr("stroke-linejoin", "round")
      .attr("d", line);
  });
  frame(g, p.w, p.h);
  axes(g, x, y, p.w, p.h, p.xTicks, eigTicks, d3.format("d"), d3.format(".1f"));
  labels(g, p.w, p.h, "time step", p.ylabel, p.ylx);
  legend(g, p.w, p.series, p.legendSide);
}

// ---- row (a) ----
scatterPanel({
  x: 72, y: 6, w: 373, h: 148,
  xDomain: [-4.3, 7.38], yDomain: [-4.68, 4.4],
  xTicks: pcaTicksA.x, yTicks: pcaTicksA.y,
  fx: d3.format("d"), fy: d3.format(".1f"), r: 1.55,
  clusters: [pendClusterLeft, pendClusterLeftCore, pendClusterRight, pendClusterRightCore], ylx: -58
});
linePanel({
  x: 525.3, y: 6, w: 373, h: 148, yDomain: [-0.35, 0.35],
  xTicks: stepTicksA, ylabel: "eigendisturbance 1", ylx: -57,
  series: [{ name: "torque", color: TORQUE, values: pendTorque1 }], legendSide: "left"
});
linePanel({
  x: 979, y: 6, w: 372.7, h: 148, yDomain: [-0.35, 0.35],
  xTicks: stepTicksA, ylabel: "eigendisturbance 2", ylx: -58,
  series: [{ name: "torque", color: TORQUE, values: pendTorque2 }], legendSide: "left"
});

// ---- row (b) ----
scatterPanel({
  x: 60.7, y: 262.7, w: 374.3, h: 150,
  xDomain: [-6.92, 10.32], yDomain: [-5.09, 4.78],
  xTicks: pcaTicksB.x, yTicks: pcaTicksB.y,
  fx: d3.format(".1f"), fy: d3.format("d"), r: 1.65,
  clusters: [landerClusterLeft, landerClusterLeftCore, landerClusterRight, landerClusterRightCore], ylx: -46.7
});
linePanel({
  x: 519, y: 262.7, w: 374.3, h: 150.6, yDomain: [-0.3, 0.3],
  xTicks: stepTicksB, ylabel: "eigendisturbance 1", ylx: -57,
  series: [
    { name: "horizontal pos.", color: HORIZ, values: landerHoriz1 },
    { name: "orientation", color: ORIENT, values: landerOrient1 }
  ], legendSide: "right"
});
linePanel({
  x: 977.7, y: 262.7, w: 374, h: 150.6, yDomain: [-0.3, 0.3],
  xTicks: stepTicksB, ylabel: "eigendisturbance 2", ylx: -58.7,
  series: [
    { name: "horizontal pos.", color: HORIZ, values: landerHoriz2 },
    { name: "orientation", color: ORIENT, values: landerOrient2 }
  ], legendSide: "right"
});

// ---- sub-captions ----
[["(a)", captions[0], 695.5, 232.5, 17.8, 0], ["(b)", captions[1], 679, 491, 18.5, 1.3]]
  .forEach(([tag, txt, cx, by, fs, ls]) => {
    const t = svg.append("text")
      .attr("x", cx).attr("y", by).attr("text-anchor", "middle")
      .attr("font-family", "Liberation Serif").attr("font-size", fs)
      .attr("letter-spacing", ls).attr("fill", "#111");
    t.append("tspan").attr("font-weight", "bold").text(tag);
    t.append("tspan").text(" " + txt);
  });
</script>
</body>
</html>
